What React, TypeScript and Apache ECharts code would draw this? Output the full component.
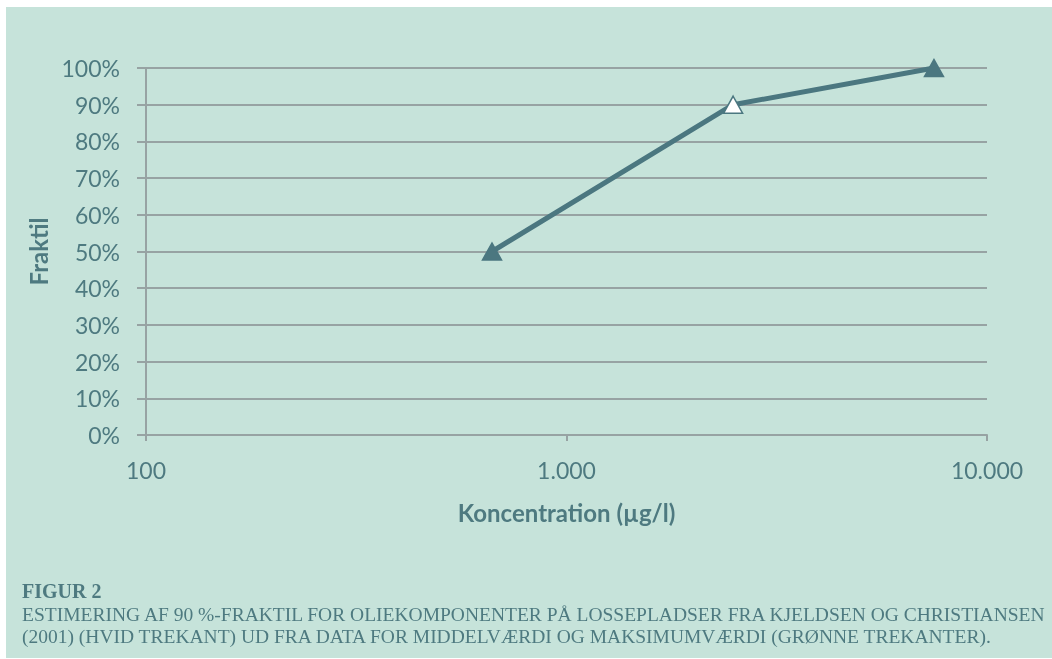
import React, { useEffect, useRef } from "react";
import * as echarts from "echarts";

const concentrations = [665, 2490, 7480];
const fractiles = [50, 90, 100];
const markerFills = ["#4b7780", "#ffffff", "#4b7780"];
const yTicks = [0, 10, 20, 30, 40, 50, 60, 70, 80, 90, 100];
const xTickLabels: Record<number, string> = { 100: "100", 1000: "1.000", 10000: "10.000" };

const captionTitle = "FIGUR 2";
const captionLines = [
  "ESTIMERING AF 90 %-FRAKTIL FOR OLIEKOMPONENTER PÅ LOSSEPLADSER FRA KJELDSEN OG CHRISTIANSEN",
  "(2001) (HVID TREKANT) UD FRA DATA FOR MIDDELVÆRDI OG MAKSIMUMVÆRDI (GRØNNE TREKANTER).",
];

const TEXT = "#4e7a80";
const LINE = "#4b7780";
const GRID = "#97a3a3";
const BG = "#c6e3da";

export default function App() {
  const ref = useRef<HTMLDivElement>(null);
  useEffect(() => {
    if (!ref.current) return;
    const chart = echarts.init(ref.current, null, { renderer: "svg" });
    const data = concentrations.map((c, i) => ({
      value: [c, fractiles[i]],
      itemStyle: { color: markerFills[i], borderColor: LINE, borderWidth: 1.5 },
    }));
    chart.setOption({
      animation: false,
      graphic: [
        { type: "rect", shape: { x: 6, y: 7, width: 1046, height: 651 }, style: { fill: BG }, z: -10 },
        {
          type: "text", x: 22, y: 591,
          style: { text: captionTitle, fill: TEXT, font: "bold 20px 'Liberation Serif', serif", textVerticalAlign: "middle" },
        },
        ...captionLines.map((t, i) => ({
          type: "text", x: 22, y: 614 + i * 22,
          style: { text: t, fill: TEXT, font: "19.5px 'Liberation Serif', serif", textVerticalAlign: "middle" },
        })),
      ],
      grid: { left: 146, right: 65, top: 68, bottom: 224, containLabel: false },
      xAxis: {
        type: "log",
        logBase: 10,
        min: 100,
        max: 10000,
        name: "Koncentration (µg/l)",
        nameLocation: "middle",
        nameGap: 65,
        nameTextStyle: { color: TEXT, fontSize: 24, fontWeight: "bold", fontFamily: "Lato" },
        axisLine: { show: true, lineStyle: { color: GRID, width: 2 } },
        axisTick: { show: true, length: 6, lineStyle: { color: GRID, width: 2 } },
        axisLabel: {
          color: TEXT, fontSize: 23, fontFamily: "Lato", margin: 23,
          formatter: (v: number) => xTickLabels[Math.round(v)] ?? "",
        },
        splitLine: { show: false },
        minorTick: { show: false },
      },
      yAxis: {
        type: "value",
        min: 0,
        max: 100,
        interval: 10,
        name: "Fraktil",
        nameLocation: "middle",
        nameGap: 92,
        nameRotate: 90,
        nameTextStyle: { color: TEXT, fontSize: 24, fontWeight: "bold", fontFamily: "Lato" },
        axisLine: { show: true, lineStyle: { color: GRID, width: 2 } },
        axisTick: { show: true, length: 9, lineStyle: { color: GRID, width: 2 } },
        axisLabel: {
          color: TEXT, fontSize: 23, fontFamily: "Lato", margin: 26,
          formatter: (v: number) => (yTicks.includes(v) ? v + "%" : ""),
        },
        splitLine: { show: true, lineStyle: { color: GRID, width: 2 } },
      },
      series: [
        {
          type: "line",
          data,
          symbol: "triangle",
          symbolSize: [19, 17],
          lineStyle: { color: LINE, width: 5 },
          z: 5,
        },
      ],
    });
    return () => chart.dispose();
  }, []);
  return (
    <div
      ref={ref}
      style={{ position: "fixed", left: 0, top: 0, width: 1052, height: 659 }}
    />
  );
}
